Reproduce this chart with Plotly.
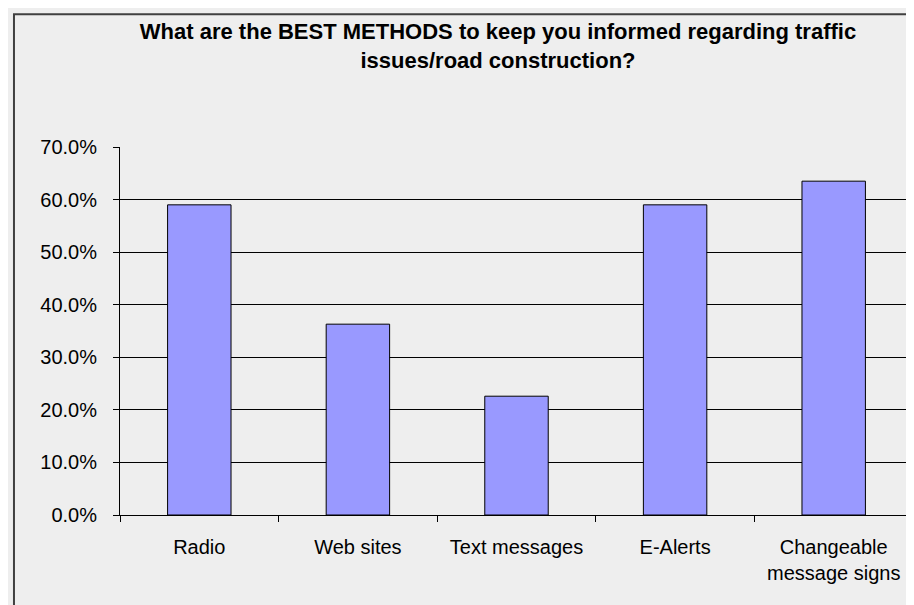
import plotly.graph_objects as go

categories = ["Radio", "Web sites", "Text messages", "E-Alerts", "Changeable<br>message signs"]
values = [0.590, 0.363, 0.226, 0.590, 0.635]
title_text = "What are the BEST METHODS to keep you informed regarding traffic<br>issues/road construction?"

FONT = "Liberation Sans, Arial, sans-serif"
BG = "#eeeeee"

fig = go.Figure(
    go.Bar(
        x=categories,
        y=values,
        marker=dict(color="#9999ff", line=dict(color="#000000", width=1)),
        hoverinfo="x+y",
    )
)

fig.update_layout(
    width=914,
    height=605,
    margin=dict(l=112, r=9, t=139, b=98),
    paper_bgcolor=BG,
    plot_bgcolor=BG,
    bargap=0.6,
    showlegend=False,
    font=dict(family=FONT, size=20, color="#000000"),
    title=dict(
        text=title_text,
        font=dict(family=FONT, size=22, color="#000000", weight="bold"),
        xref="container",
        x=490 / 914,
        xanchor="center",
        yref="container",
        y=1 - 31 / 605,
        yanchor="top",
    ),
    shapes=[
        dict(
            type="rect",
            xref="paper",
            yref="paper",
            x0=-0.1337,
            x1=1.05,
            y0=-0.4,
            y1=1.3606,
            line=dict(color="#404040", width=2),
            fillcolor="rgba(0,0,0,0)",
            layer="below",
        )
    ],
)

fig.update_yaxes(
    range=[0, 0.7],
    dtick=0.1,
    tickformat=".1%",
    showgrid=True,
    gridcolor="#000000",
    gridwidth=1,
    showline=True,
    linecolor="#000000",
    linewidth=1,
    ticks="outside",
    ticklen=6,
    tickcolor="#000000",
    ticklabelstandoff=12,
    zeroline=False,
    tickfont=dict(family=FONT, size=20),
)

fig.update_xaxes(
    showline=True,
    linecolor="#000000",
    linewidth=1,
    ticks="outside",
    tickson="boundaries",
    ticklen=6,
    tickcolor="#000000",
    showgrid=False,
    ticklabelstandoff=14,
    tickfont=dict(family=FONT, size=20),
)

fig.write_html("out.html")
